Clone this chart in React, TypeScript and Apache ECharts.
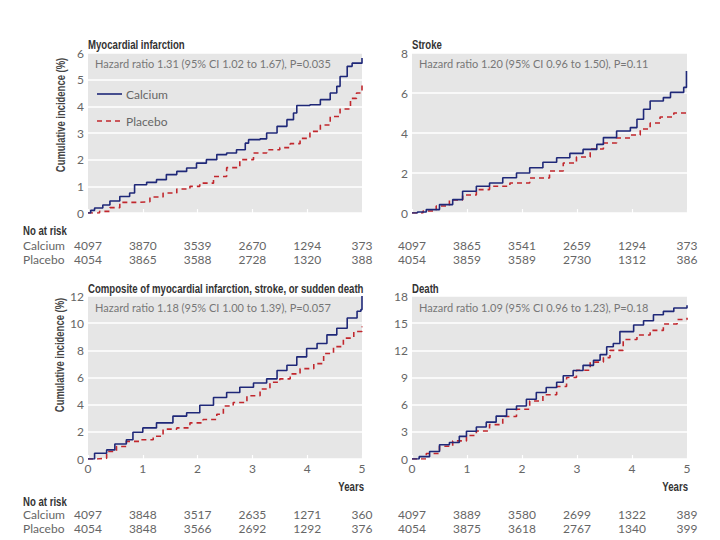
import React, { useEffect, useRef } from "react";
import * as echarts from "echarts";

// ---------- data ----------
const yearTicks = [0, 1, 2, 3, 4, 5];

const panelTitles = [
  "Myocardial infarction",
  "Stroke",
  "Composite of myocardial infarction, stroke, or sudden death",
  "Death",
];
const hazardTexts = [
  "Hazard ratio 1.31 (95% CI 1.02 to 1.67), P=0.035",
  "Hazard ratio 1.20 (95% CI 0.96 to 1.50), P=0.11",
  "Hazard ratio 1.18 (95% CI 1.00 to 1.39), P=0.057",
  "Hazard ratio 1.09 (95% CI 0.96 to 1.23), P=0.18",
];
const yMax = [6, 8, 12, 18];
const yStep = [1, 2, 2, 3];

const miCalcium = [
  [0, 0], [0.05, 0.1], [0.12, 0.19], [0.27, 0.3], [0.4, 0.45], [0.58, 0.62], [0.76, 0.75],
  [0.85, 1.06], [1.07, 1.15], [1.25, 1.25], [1.43, 1.44], [1.62, 1.56], [1.8, 1.69],
  [1.98, 1.87], [2.16, 2.0], [2.35, 2.19], [2.53, 2.25], [2.71, 2.37], [2.87, 2.62],
  [2.93, 2.75], [3.14, 2.78], [3.26, 3.0], [3.45, 3.25], [3.63, 3.5], [3.75, 3.75],
  [3.81, 4.03], [4.05, 4.06], [4.24, 4.25], [4.42, 4.5], [4.54, 4.75], [4.6, 5.12],
  [4.73, 5.5], [4.82, 5.62], [4.98, 5.62], [5.0, 5.81],
];
const miPlacebo = [
  [0, 0], [0.21, 0.06], [0.4, 0.2], [0.58, 0.4], [0.95, 0.42], [1.13, 0.6], [1.37, 0.75],
  [1.62, 0.9], [1.86, 1.0], [2.04, 1.12], [2.29, 1.37], [2.53, 1.7], [2.77, 2.0],
  [3.02, 2.25], [3.26, 2.37], [3.5, 2.45], [3.69, 2.6], [3.87, 2.8], [4.05, 3.06],
  [4.24, 3.3], [4.42, 3.62], [4.6, 3.9], [4.79, 4.3], [4.9, 4.5], [5.0, 4.87],
];
const strokeCalcium = [
  [0, 0], [0.1, 0.05], [0.26, 0.17], [0.5, 0.42], [0.74, 0.67], [0.92, 1.09], [1.17, 1.34],
  [1.41, 1.5], [1.65, 1.76], [1.9, 2.0], [2.14, 2.26], [2.38, 2.54], [2.63, 2.76],
  [2.87, 2.98], [3.11, 3.18], [3.36, 3.43], [3.48, 3.77], [3.72, 4.1], [3.97, 4.27],
  [4.09, 4.69], [4.21, 5.19], [4.33, 5.6], [4.57, 5.77], [4.7, 6.03], [4.94, 6.28],
  [4.99, 7.1],
];
const strokePlacebo = [
  [0, 0], [0.2, 0.1], [0.44, 0.35], [0.68, 0.65], [0.92, 0.9], [1.17, 1.17], [1.41, 1.34],
  [1.78, 1.5], [2.14, 1.75], [2.5, 2.1], [2.75, 2.5], [2.99, 2.8], [3.24, 3.2],
  [3.48, 3.5], [3.72, 3.75], [3.97, 3.9], [4.15, 4.2], [4.33, 4.5], [4.51, 4.8],
  [4.76, 5.0], [5.0, 5.1],
];
const compCalcium = [
  [0, 0], [0.12, 0.42], [0.34, 0.67], [0.49, 1.1], [0.7, 1.42], [0.82, 1.97], [1.0, 2.29],
  [1.25, 2.66], [1.43, 2.66], [1.55, 3.16], [1.8, 3.4], [2.04, 3.96], [2.29, 4.53],
  [2.53, 4.9], [2.77, 5.28], [3.02, 5.6], [3.26, 5.9], [3.45, 6.52], [3.63, 6.9],
  [3.81, 7.52], [3.99, 8.14], [4.18, 8.5], [4.36, 9.14], [4.54, 9.63], [4.73, 10.38],
  [4.91, 10.88], [4.98, 11.0], [5.0, 12.0],
];
const compPlacebo = [
  [0, 0], [0.15, 0.05], [0.34, 0.55], [0.52, 0.92], [0.7, 1.3], [0.95, 1.42], [1.19, 1.67],
  [1.37, 2.2], [1.62, 2.29], [1.86, 2.66], [2.1, 2.91], [2.35, 3.29], [2.47, 3.9],
  [2.65, 4.16], [2.9, 4.66], [3.14, 5.15], [3.32, 5.65], [3.5, 5.9], [3.69, 6.27],
  [3.87, 6.65], [4.12, 7.02], [4.3, 7.77], [4.48, 8.27], [4.66, 8.9], [4.85, 9.39],
  [5.0, 9.76],
];
const deathCalcium = [
  [0, 0], [0.13, 0.26], [0.32, 0.82], [0.5, 1.57], [0.68, 1.83], [0.86, 2.5], [0.99, 3.06],
  [1.17, 3.54], [1.35, 4.07], [1.53, 4.74], [1.72, 5.49], [1.9, 5.86], [2.08, 6.6],
  [2.26, 7.35], [2.44, 7.9], [2.63, 8.47], [2.75, 9.2], [2.93, 9.78], [3.11, 10.34],
  [3.3, 10.9], [3.42, 11.53], [3.54, 12.39], [3.66, 12.76], [3.78, 14.07], [4.03, 14.8],
  [4.21, 15.26], [4.39, 15.93], [4.57, 16.3], [4.76, 16.68], [5.0, 16.98],
];
const deathPlacebo = [
  [0, 0], [0.26, 0.6], [0.5, 1.4], [0.74, 2.0], [0.99, 2.6], [1.17, 3.1], [1.41, 3.8],
  [1.65, 4.7], [1.9, 5.5], [2.14, 6.4], [2.38, 7.1], [2.63, 8.0], [2.81, 9.0],
  [2.99, 9.8], [3.24, 10.7], [3.48, 11.2], [3.6, 12.0], [3.84, 13.2], [4.09, 13.7],
  [4.33, 14.2], [4.57, 14.9], [4.82, 15.4], [5.0, 15.6],
];

const miCalciumRisk = [4097, 3870, 3539, 2670, 1294, 373];
const miPlaceboRisk = [4054, 3865, 3588, 2728, 1320, 388];
const strokeCalciumRisk = [4097, 3865, 3541, 2659, 1294, 373];
const strokePlaceboRisk = [4054, 3859, 3589, 2730, 1312, 386];
const compCalciumRisk = [4097, 3848, 3517, 2635, 1271, 360];
const compPlaceboRisk = [4054, 3848, 3566, 2692, 1292, 376];
const deathCalciumRisk = [4097, 3889, 3580, 2699, 1322, 389];
const deathPlaceboRisk = [4054, 3875, 3618, 2767, 1340, 399];

const calciumCurves = [miCalcium, strokeCalcium, compCalcium, deathCalcium];
const placeboCurves = [miPlacebo, strokePlacebo, compPlacebo, deathPlacebo];
const calciumRisk = [miCalciumRisk, strokeCalciumRisk, compCalciumRisk, deathCalciumRisk];
const placeboRisk = [miPlaceboRisk, strokePlaceboRisk, compPlaceboRisk, deathPlaceboRisk];

// ---------- style / layout ----------
const NAVY = "#1f2878";
const RED = "#c1272d";
const BG = "#e6e6e6";
const GRAY = "#666";
const NUMFONT = "Lato, 'Open Sans', sans-serif";
const BOLDFONT = "'Liberation Sans', Arial, sans-serif";
const CONDENSE = 0.74;

const grids = [
  { left: 88, top: 53, width: 274, height: 160 },
  { left: 412, top: 53, width: 275, height: 160 },
  { left: 88, top: 296, width: 274, height: 163 },
  { left: 412, top: 296, width: 275, height: 163 },
];

export default function App() {
  const ref = useRef<HTMLDivElement>(null);

  useEffect(() => {
    document.body.style.margin = "0";
    if (!ref.current) return;
    const chart = echarts.init(ref.current, undefined, { renderer: "svg" });

    const xAxis = grids.map((_, i) => ({
      type: "value",
      gridIndex: i,
      min: 0,
      max: 5,
      interval: 1,
      axisLine: { show: false },
      axisTick: { show: true, inside: true, length: 4, lineStyle: { color: "#fff", width: 1.2 } },
      splitLine: { show: false },
      axisLabel: {
        show: i >= 2,
        color: GRAY,
        fontFamily: NUMFONT,
        fontSize: 12,
        margin: 3,
      },
    }));
    const yAxis = grids.map((_, i) => ({
      type: "value",
      gridIndex: i,
      min: 0,
      max: yMax[i],
      interval: yStep[i],
      axisLine: { show: false },
      axisTick: { show: false },
      splitLine: { show: true, lineStyle: { color: "#fff", width: 1.5 } },
      axisLabel: { color: GRAY, fontFamily: NUMFONT, fontSize: 12, margin: 4 },
    }));

    const series: any[] = [];
    grids.forEach((_, i) => {
      series.push({
        type: "line",
        name: "Calcium",
        xAxisIndex: i,
        yAxisIndex: i,
        data: calciumCurves[i],
        step: "end",
        showSymbol: false,
        lineStyle: { color: NAVY, width: 1.6 },
        z: 3,
      });
      series.push({
        type: "line",
        name: "Placebo",
        xAxisIndex: i,
        yAxisIndex: i,
        data: placeboCurves[i],
        step: "end",
        showSymbol: false,
        lineStyle: { color: RED, width: 1.6, type: [5, 4] },
        z: 2,
      });
    });

    const graphic: any[] = [];
    const txt = (text: string, x: number, y: number, opts: any = {}) => ({
      type: "text",
      x,
      y,
      rotation: opts.rotation || 0,
      scaleX: opts.scaleX || 1,
      z: 10,
      style: {
        text,
        fill: opts.fill || GRAY,
        fontFamily: opts.fontFamily || NUMFONT,
        fontSize: opts.fontSize || 12,
        fontWeight: opts.fontWeight || "normal",
        align: opts.align || "left",
        verticalAlign: opts.verticalAlign || "middle",
      },
    });
    const bold = (extra: any = {}) => ({
      fill: "#333",
      fontFamily: BOLDFONT,
      fontWeight: "bold",
      fontSize: 13,
      scaleX: CONDENSE,
      ...extra,
    });

    grids.forEach((g, i) => {
      graphic.push(txt(panelTitles[i], g.left, i < 2 ? 44 : 288, bold()));
      graphic.push(
        txt(hazardTexts[i], g.left + 7, g.top + (i < 2 ? 10 : 11), {
          fill: "#777",
          fontSize: 11,
        })
      );
    });

    // y axis names
    graphic.push(
      txt(
        "Cumulative incidence (%)",
        60,
        115,
        bold({ rotation: Math.PI / 2, align: "center", fill: "#444", fontSize: 13.5, scaleX: 0.7 })
      )
    );
    graphic.push(
      txt(
        "Cumulative incidence (%)",
        59,
        355,
        bold({ rotation: Math.PI / 2, align: "center", fill: "#444", fontSize: 13.5, scaleX: 0.7 })
      )
    );

    // legend
    graphic.push({
      type: "line",
      z: 10,
      shape: { x1: 97, y1: 94, x2: 122, y2: 94 },
      style: { stroke: NAVY, lineWidth: 1.6 },
    });
    graphic.push(txt("Calcium", 126, 94, { fill: GRAY, fontSize: 12 }));
    graphic.push({
      type: "line",
      z: 10,
      shape: { x1: 97, y1: 121, x2: 122, y2: 121 },
      style: { stroke: RED, lineWidth: 1.6, lineDash: [5, 4] },
    });
    graphic.push(txt("Placebo", 126, 121, { fill: GRAY, fontSize: 12 }));

    // Years labels
    graphic.push(txt("Years", 364, 486, bold({ align: "right" })));
    graphic.push(txt("Years", 688, 486, bold({ align: "right" })));

    // risk tables
    const tables = [
      { head: 230, cal: 245, pla: 259 },
      { head: 501, cal: 514, pla: 528 },
    ];
    tables.forEach((t, r) => {
      graphic.push(txt("No at risk", 23, t.head, bold()));
      graphic.push(txt("Calcium", 23, t.cal, { fill: GRAY, fontSize: 12 }));
      graphic.push(txt("Placebo", 23, t.pla, { fill: GRAY, fontSize: 12 }));
      [0, 1].forEach((c) => {
        const pi = r * 2 + c;
        const g = grids[pi];
        yearTicks.forEach((yr, k) => {
          const x = g.left + (g.width * yr) / 5;
          graphic.push(txt(String(calciumRisk[pi][k]), x, t.cal, { align: "center", fill: GRAY, fontSize: 12 }));
          graphic.push(txt(String(placeboRisk[pi][k]), x, t.pla, { align: "center", fill: GRAY, fontSize: 12 }));
        });
      });
    });

    chart.setOption({
      animation: false,
      backgroundColor: "#fff",
      grid: grids.map((g) => ({
        ...g,
        show: true,
        backgroundColor: BG,
        borderWidth: 0,
        containLabel: false,
      })),
      xAxis,
      yAxis,
      series,
      graphic,
    });

    return () => chart.dispose();
  }, []);

  return <div ref={ref} style={{ width: 720, height: 540 }} />;
}
